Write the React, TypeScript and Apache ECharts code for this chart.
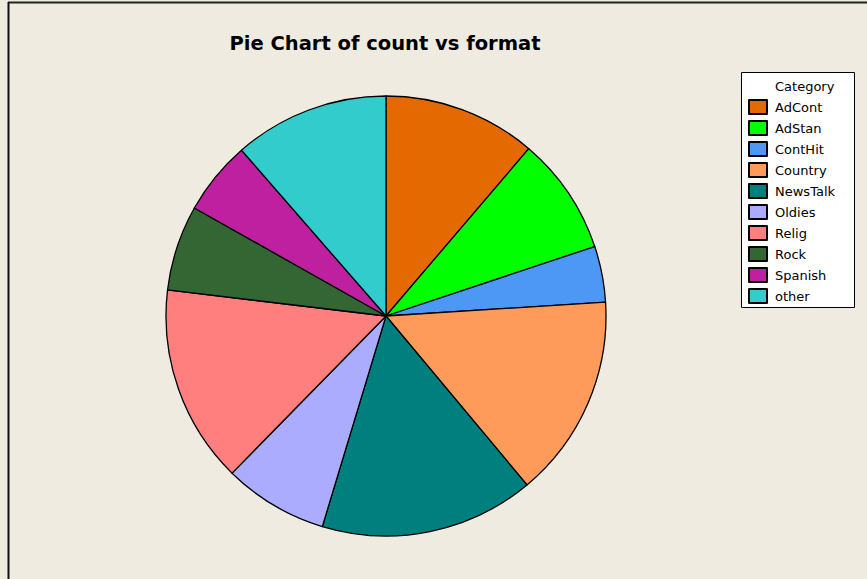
import React, { useEffect, useRef } from "react";
import * as echarts from "echarts";

const categories = ["AdCont", "AdStan", "ContHit", "Country", "NewsTalk", "Oldies", "Relig", "Rock", "Spanish", "other"];
const counts = [1556, 1196, 569, 2066, 2179, 1060, 2014, 869, 750, 1579];
const colors = ["#E46A00", "#00FF00", "#4C98F4", "#FF9B5A", "#007F7F", "#ACACFF", "#FF7F7F", "#336633", "#BE20A0", "#33CCCC"];
const titleText = "Pie Chart of count vs format";
const legendTitle = "Category";

export default function App() {
  const ref = useRef<HTMLDivElement>(null);
  useEffect(() => {
    if (!ref.current) return;
    const chart = echarts.init(ref.current, null, { renderer: "svg" });
    chart.setOption({
      animation: false,
      backgroundColor: "#EFEBE1",
      title: {
        text: titleText,
        left: 385,
        top: 33,
        padding: 0,
        textAlign: "center",
        textStyle: { fontFamily: "DejaVu Sans", fontWeight: "bold", fontSize: 19.5, color: "#000" },
      },
      legend: {
        orient: "vertical",
        left: 748,
        top: 99,
        padding: 0,
        itemWidth: 18,
        itemHeight: 14,
        itemGap: 5,
        icon: "rect",
        selectedMode: false,
        textStyle: { fontFamily: "DejaVu Sans", fontSize: 13, color: "#000", lineHeight: 14, padding: [0, 0, 0, 3] },
        data: categories,
      },
      graphic: [
        { type: "line", shape: { x1: 8, y1: 2.5, x2: 867, y2: 2.5 }, style: { stroke: "#222", lineWidth: 2 } },
        { type: "line", shape: { x1: 8.5, y1: 2, x2: 8.5, y2: 579 }, style: { stroke: "#111", lineWidth: 2 } },
        { type: "rect", shape: { x: 741.5, y: 72.5, width: 113, height: 235 }, style: { fill: "#fff", stroke: "#000", lineWidth: 1 }, z: -1 },
        { type: "text", x: 775, y: 86, style: { text: legendTitle, fontFamily: "DejaVu Sans", fontSize: 13, fill: "#000", verticalAlign: "middle" } },
      ],
      series: [
        {
          type: "pie",
          center: [386, 316],
          radius: 220,
          startAngle: 90,
          clockwise: true,
          label: { show: false },
          labelLine: { show: false },
          emphasis: { disabled: true },
          itemStyle: { borderColor: "#000", borderWidth: 1.3 },
          data: categories.map((c, i) => ({ name: c, value: counts[i], itemStyle: { color: colors[i] } })),
        },
      ],
    });
    return () => chart.dispose();
  }, []);
  return <div ref={ref} style={{ position: "fixed", left: 0, top: 0, width: 867, height: 579 }} />;
}
